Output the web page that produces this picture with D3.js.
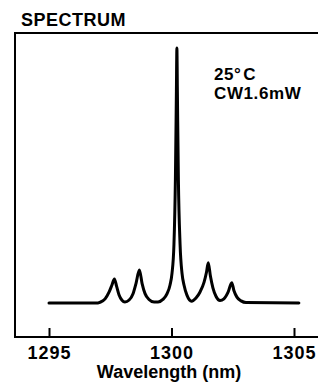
<!DOCTYPE html>
<html lang="en">
<head>
  <meta charset="UTF-8" />
  <title>Spectrum</title>
  <style>
    body { margin: 0; background: #fff; }
    svg { display: block; font-family: "Liberation Sans", Arial, sans-serif; }
    .lbl { font-weight: bold; fill: #000; }
  </style>
</head>
<body>
  <div id="chart"></div>
  <script src="https://d3js.org/d3.v7.min.js"></script>
  <script>
    const width = 318;
    const height = 383;

    // spectrum (wavelength nm, relative intensity, main peak = 100)
    const wavelength = [
      1295.00, 1297.00, 1297.08, 1297.29, 1297.45, 1297.57, 1297.67, 1297.76, 1297.86, 1297.98,
      1298.10, 1298.27, 1298.43, 1298.55, 1298.69, 1298.80, 1298.92, 1299.08, 1299.29, 1299.45,
      1299.65, 1299.82, 1299.94, 1300.02, 1300.10, 1300.16, 1300.20, 1300.22, 1300.24, 1300.28,
      1300.35, 1300.43, 1300.51, 1300.63, 1300.82, 1301.00, 1301.16, 1301.33, 1301.43, 1301.50,
      1301.59, 1301.69, 1301.82, 1301.98, 1302.14, 1302.31, 1302.46, 1302.55, 1302.67, 1302.84,
      1303.04, 1305.20
    ];
    const intensity = [
      11.8, 11.8, 12.0, 13.2, 15.5, 18.0, 20.1, 17.5, 14.5, 12.7,
      12.1, 12.8, 15.0, 18.5, 23.2, 18.5, 15.0, 13.0, 12.1, 12.1,
      13.0, 15.0, 18.0, 22.0, 32.0, 55.0, 85.0, 100, 85.0, 55.0,
      32.0, 22.0, 18.0, 14.5, 12.4, 13.5, 15.5, 19.0, 22.5, 25.7,
      21.0, 17.0, 14.0, 12.6, 13.2, 15.5, 18.8, 16.0, 13.8, 12.5,
      11.9, 11.8
    ];
    const tickValues = [1295, 1300, 1305];

    const svg = d3.select('#chart')
      .append('svg')
      .attr('width', width)
      .attr('height', height);

    const frameL = 15, frameT = 33, frameB = 337;

    const x = d3.scaleLinear().domain([1295, 1305]).range([49, 294]);
    const y = d3.scaleLinear().domain([0, 105.2]).range([frameB, frameT]);

    // frame (open on the right, runs off the picture)
    svg.append('path')
      .attr('d', `M${width + 5},${frameT} H${frameL} V${frameB} H${width + 5}`)
      .attr('fill', 'none')
      .attr('stroke', '#000')
      .attr('stroke-width', 2);

    // ticks pointing inward from the bottom edge
    const axis = svg.append('g')
      .attr('transform', `translate(0,${frameB})`)
      .call(d3.axisBottom(x).tickValues(tickValues).tickSize(-9).tickPadding(9.5).tickFormat(d3.format('d')));
    axis.select('.domain').remove();
    axis.selectAll('.tick line').attr('stroke', '#000').attr('stroke-width', 2);
    axis.selectAll('.tick text')
      .attr('class', 'lbl')
      .style('font-size', '18px')
      .style('letter-spacing', '1px')
      .attr('fill', '#000');

    const pts = wavelength.map((w, i) => [w, intensity[i]]);
    const line = d3.line()
      .x(d => x(d[0]))
      .y(d => y(d[1]))
      .curve(d3.curveMonotoneX);

    svg.append('path')
      .datum(pts)
      .attr('d', line)
      .attr('fill', 'none')
      .attr('stroke', '#000')
      .attr('stroke-width', 3)
      .attr('stroke-linejoin', 'round')
      .attr('stroke-linecap', 'round');

    svg.append('text')
      .attr('class', 'lbl')
      .attr('x', 21)
      .attr('y', 25.5)
      .style('font-size', '18px')
      .style('letter-spacing', '0.5px')
      .text('SPECTRUM');

    // measurement conditions
    const cond = svg.append('text')
      .attr('class', 'lbl')
      .attr('x', 214)
      .attr('y', 79.5)
      .style('font-size', '17px')
      .style('letter-spacing', '0.5px');
    cond.append('tspan').text('25°');
    cond.append('tspan').attr('dx', 2).text('C');

    svg.append('text')
      .attr('class', 'lbl')
      .attr('x', 214)
      .attr('y', 98.5)
      .style('font-size', '17px')
      .style('letter-spacing', '0.6px')
      .text('CW1.6mW');

    svg.append('text')
      .attr('class', 'lbl')
      .attr('x', 169)
      .attr('y', 378.3)
      .attr('text-anchor', 'middle')
      .style('font-size', '18px')
      .text('Wavelength (nm)');
  </script>
</body>
</html>
